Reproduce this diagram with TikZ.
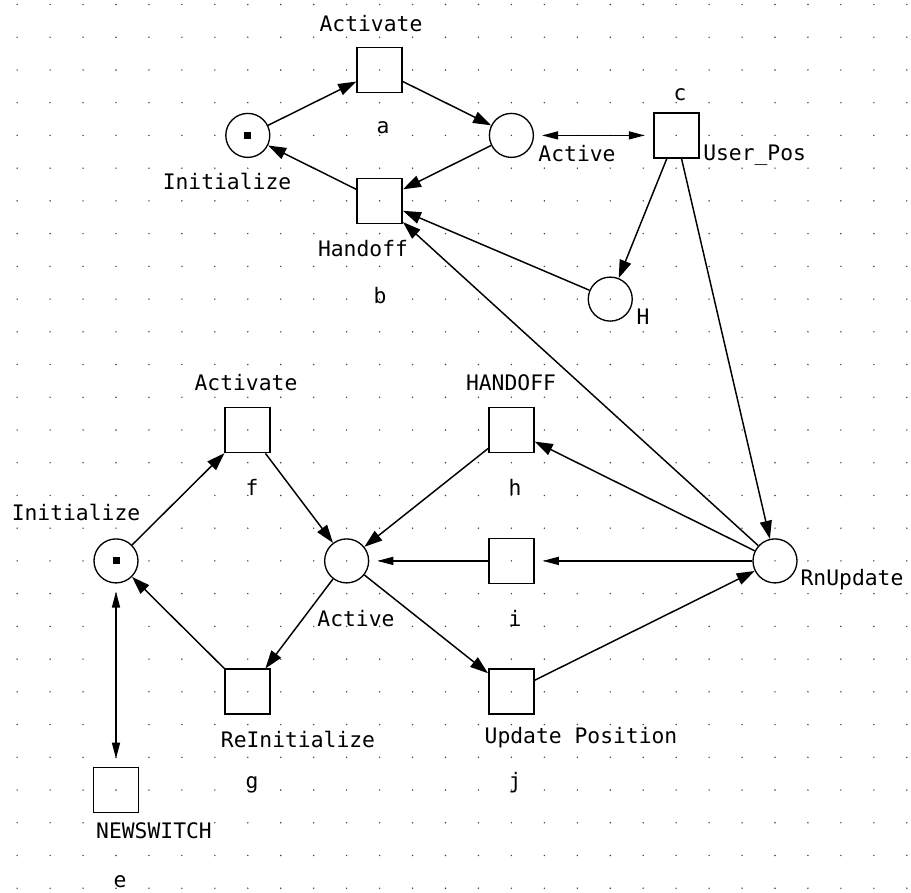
\documentclass[tikz,border=0pt]{standalone}
\usepackage{fontspec}
\setmonofont{DejaVu Sans Mono}
\usetikzlibrary{arrows.meta}
\begin{document}
\begin{tikzpicture}[x=0.75pt,y=-0.75pt,
  place/.style={circle,draw,line width=1pt,minimum size=33pt,inner sep=0pt},
  trans/.style={rectangle,draw,line width=1.3pt,minimum size=33.75pt,inner sep=0pt},
  arc/.style={line width=1.1pt,-{Triangle[length=13.5pt,width=9pt]}},
  readarc/.style={line width=1.1pt,shorten >=6pt,-{Triangle[length=12pt,width=6pt]}},
  botharc/.style={line width=1.1pt,shorten >=6pt,shorten <=6pt,
    {Triangle[length=12pt,width=6pt]}-{Triangle[length=12pt,width=6pt]}},
  lbl/.style={font=\ttfamily\fontsize{16}{19}\selectfont,inner sep=0pt},
  token/.style={fill,minimum size=5.25pt,inner sep=0pt}
]
% canvas
\fill[white] (0,0) rectangle (911,893);
\useasboundingbox (0,0) rectangle (911,893);

% dotted grid
\foreach \i in {0,...,27}
  \foreach \j in {0,...,27}
    \fill[black!75] ({17.15+32.95*\i},{4.5+32.73*\j}) circle (0.8);

% ---------- upper net ----------
\node[place] (P1) at (247.8,135.4) {};
\node[token] (tok1) at (P1) {};
\node[trans] (ta) at (379.6,70.0) {};
\node[place] (PA) at (511.4,135.4) {};
\node[trans] (tc) at (676.15,135.4) {};
\node[trans] (tb) at (379.6,200.9) {};
\node[place] (PH) at (610.25,299.1) {};

% ---------- lower net ----------
\node[place] (Q1) at (116.0,560.9) {};
\node[token] (tok2) at (Q1) {};
\node[trans] (tf) at (247.8,430.0) {};
\node[place] (QA) at (346.65,560.9) {};
\node[trans] (th) at (511.4,430.0) {};
\node[trans] (ti) at (511.4,560.9) {};
\node[trans] (tj) at (511.4,691.8) {};
\node[trans] (tg) at (247.8,691.8) {};
\node[trans] (te) at (116.0,790.0) {};
\node[place] (QR) at (775.0,560.9) {};

% ---------- labels ----------
\node[lbl] (l1) at (371,24) {Activate};
\node[lbl] (l2) at (383,128) {a};
\node[lbl] (l3) at (227,181) {Initialize};
\node[lbl] (l4) at (363,249) {Handoff};
\node[lbl] (l5) at (380,296) {b};
\node[lbl] (l6) at (577,154) {Active};
\node[lbl] (l7) at (680,95) {c};
\node[lbl,anchor=west] (l8) at (703,155) {User\_Pos};
\node[lbl] (l9) at (643,317) {H};
\node[lbl] (l10) at (246,383) {Activate};
\node[lbl] (l11) at (252,487) {f};
\node[lbl] (l12) at (76,512) {Initialize};
\node[lbl] (l13) at (356,619) {Active};
\node[lbl] (l14) at (511,383) {HANDOFF};
\node[lbl] (l15) at (515,487) {h};
\node[lbl] (l16) at (515,618) {i};
\node[lbl] (l17) at (581,738) {Update Position};
\node[lbl] (l18) at (515,783) {j};
\node[lbl] (l19) at (852,580) {RnUpdate};
\node[lbl] (l20) at (298,739) {ReInitialize};
\node[lbl] (l21) at (252,785) {g};
\node[lbl] (l22) at (154,831) {NEWSWITCH};
\node[lbl] (l23) at (120,882) {e};

% ---------- arcs, upper net ----------
\draw[arc] (P1) -- (ta);
\draw[arc] (ta) -- (PA);
\draw[arc] (PA) -- (tb);
\draw[arc] (tb) -- (P1);
\draw[botharc] (PA) -- (tc);
\draw[arc] (tc) -- (PH);
\draw[arc] (PH) -- (tb);
\draw[arc] (tc) -- (QR);
\draw[arc] (QR) -- (tb);

% ---------- arcs, lower net ----------
\draw[arc] (Q1) -- (tf);
\draw[arc] (tf) -- (QA);
\draw[arc] (th) -- (QA);
\draw[readarc] (ti) -- (QA);
\draw[readarc] (QR) -- (ti);
\draw[arc] (QA) -- (tg);
\draw[arc] (tg) -- (Q1);
\draw[arc] (QA) -- (tj);
\draw[arc] (tj) -- (QR);
\draw[arc] (QR) -- (th);
\draw[botharc] (Q1) -- (te);
\end{tikzpicture}
\end{document}
